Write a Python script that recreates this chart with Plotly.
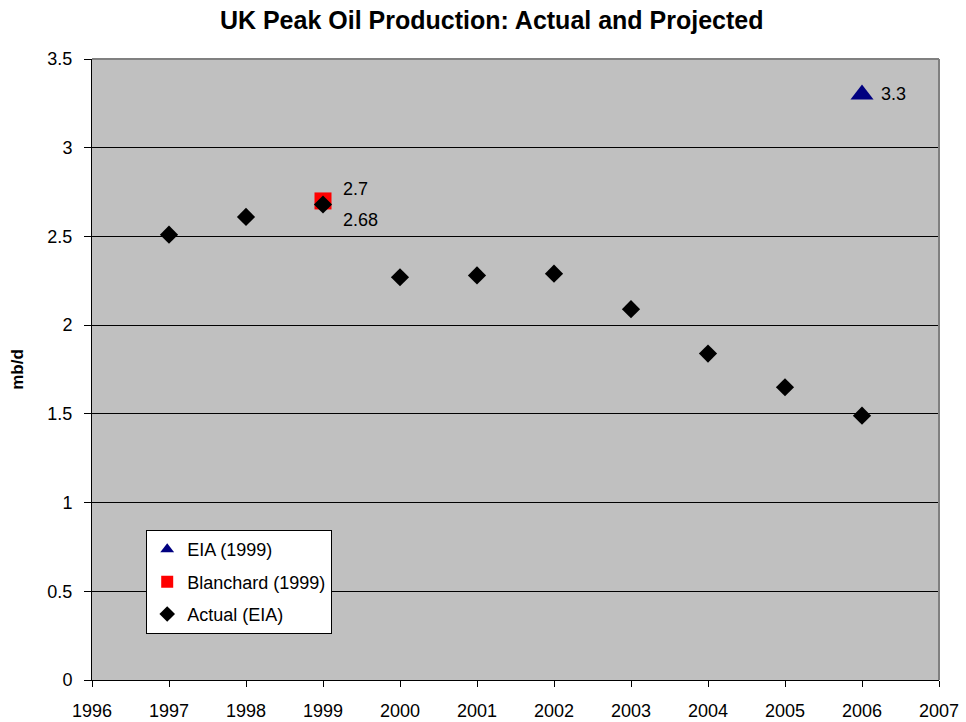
import plotly.graph_objects as go

# values
years = [1997, 1998, 1999, 2000, 2001, 2002, 2003, 2004, 2005, 2006]
actual = [2.51, 2.61, 2.68, 2.27, 2.28, 2.29, 2.09, 1.84, 1.65, 1.49]
blanchard_year = [1999]
blanchard = [2.7]
eia_year = [2006]
eia = [3.3]
x_ticks = list(range(1996, 2008))
y_ticks = [0, 0.5, 1, 1.5, 2, 2.5, 3, 3.5]

font_family = 'Liberation Sans, Arial, sans-serif'

fig = go.Figure()
fig.add_trace(go.Scatter(
    x=eia_year, y=eia, mode='markers', name='EIA (1999)', legendgroup='eia',
    marker=dict(symbol='triangle-up', size=20, color='#000080')
))
fig.add_trace(go.Scatter(
    x=blanchard_year, y=blanchard, mode='markers', name='Blanchard (1999)', legendgroup='bl',
    marker=dict(symbol='square', size=17, color='#FF0000')
))
fig.add_trace(go.Scatter(
    x=years, y=actual, mode='markers', name='Actual (EIA)', legendgroup='act',
    marker=dict(symbol='diamond', size=14, color='black')
))

# data labels
label_font = dict(size=18, color='black')
fig.add_annotation(x=eia_year[0], y=eia[0], text=str(eia[0]), showarrow=False,
                   xanchor='left', xshift=17, yshift=0, font=label_font)
fig.add_annotation(x=blanchard_year[0], y=blanchard[0], text=str(blanchard[0]), showarrow=False,
                   xanchor='left', xshift=18, yshift=12, font=label_font)
fig.add_annotation(x=years[2], y=actual[2], text=str(actual[2]), showarrow=False,
                   xanchor='left', xshift=18, yshift=-16, font=label_font)

fig.update_layout(
    width=966, height=722,
    margin=dict(l=92, r=27, t=59, b=42),
    paper_bgcolor='white',
    plot_bgcolor='#C0C0C0',
    font=dict(family=font_family, size=18, color='black'),
    title=dict(
        text='<b>UK Peak Oil Production: Actual and Projected</b>',
        x=0.509, xanchor='center', y=0.972, yanchor='middle',
        font=dict(size=25, color='black')
    ),
    xaxis=dict(
        range=[1996, 2007], tickvals=x_ticks, ticktext=[str(t) for t in x_ticks],
        showgrid=False, zeroline=False, automargin=False,
        showline=True, linecolor='black', linewidth=1,
        ticks='outside', ticklen=6, tickcolor='black',
        ticklabelstandoff=8,
        tickfont=dict(size=18)
    ),
    yaxis=dict(
        range=[0, 3.5], tickvals=y_ticks, ticktext=[str(t) for t in y_ticks],
        showgrid=True, gridcolor='black', gridwidth=1, zeroline=False, automargin=False,
        showline=True, linecolor='black', linewidth=1,
        ticks='outside', ticklen=7, tickcolor='black',
        ticklabelstandoff=8,
        tickfont=dict(size=18),
        title=dict(text='<b>mb/d</b>', font=dict(size=17), standoff=19)
    ),
    showlegend=True,
    legend=dict(
        x=0.064, y=0.2415, xanchor='left', yanchor='top',
        bgcolor='white', bordercolor='black', borderwidth=1,
        font=dict(size=18), tracegroupgap=6, itemwidth=30,
        itemsizing='constant'
    ),
)

# gray frame on the top and right edges of the plot area
fig.add_shape(type='line', xref='paper', yref='paper', x0=0, y0=1, x1=1, y1=1,
              line=dict(color='#808080', width=2))
fig.add_shape(type='line', xref='paper', yref='paper', x0=1, y0=0, x1=1, y1=1,
              line=dict(color='#808080', width=2))

fig.write_html("out.html", config={'displayModeBar': False},
               post_script="document.body.style.margin='0';")
